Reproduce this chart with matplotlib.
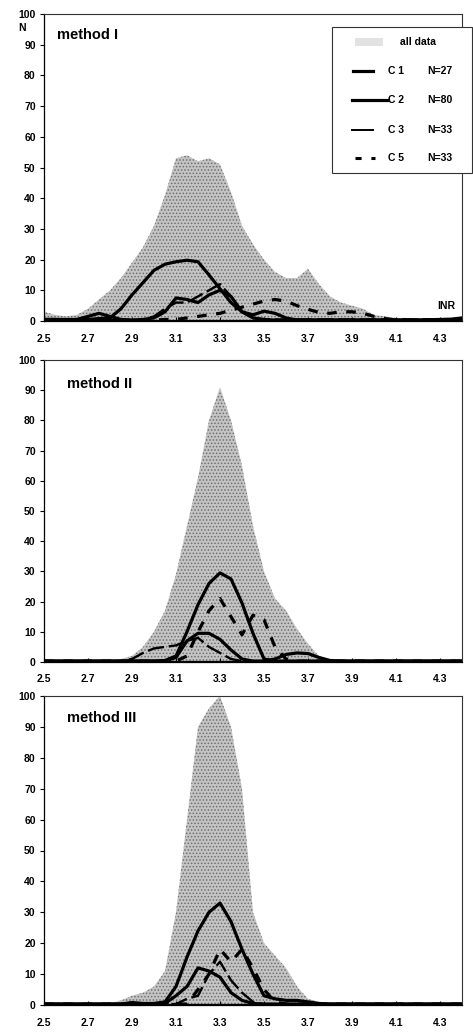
import matplotlib
matplotlib.use("Agg")
import matplotlib.pyplot as plt
from matplotlib.patches import Rectangle
from matplotlib.lines import Line2D

plt.rcParams['font.family'] = ['Liberation Sans', 'DejaVu Sans']
plt.rcParams['hatch.color'] = '#6e6e6e'
plt.rcParams['hatch.linewidth'] = 0.7

INR = [2.50, 2.55, 2.60, 2.65, 2.70, 2.75, 2.80, 2.85, 2.90, 2.95,
       3.00, 3.05, 3.10, 3.15, 3.20, 3.25, 3.30, 3.35, 3.40, 3.45,
       3.50, 3.55, 3.60, 3.65, 3.70, 3.75, 3.80, 3.85, 3.90, 3.95,
       4.00, 4.05, 4.10, 4.15, 4.20, 4.25, 4.30, 4.35, 4.40]

x_ticks = [2.5, 2.7, 2.9, 3.1, 3.3, 3.5, 3.7, 3.9, 4.1, 4.3]
x_tick_labels = ["2.5", "2.7", "2.9", "3.1", "3.3", "3.5", "3.7", "3.9", "4.1", "4.3"]
y_ticks = [0, 10, 20, 30, 40, 50, 60, 70, 80, 90, 100]

methods = ["method I", "method II", "method III"]

# ---- method I ----
all_I = [3, 2, 1.5, 2, 4, 7, 10, 14, 19, 24,
         31, 41, 53, 54, 52, 53, 51, 42, 31, 25,
         20, 16, 14, 14, 17, 12, 8, 6, 5, 4,
         2, 1.5, 1, 1, 0.5, 0.5, 0.5, 0.5, 1]
c1_I = [0.5, 0.5, 0.3, 0.5, 1.5, 2.5, 1.5, 0.5, 0.3, 0.5,
        1, 3, 7.5, 7, 6, 8.5, 10, 8, 3, 1,
        0.5, 0.3, 0.3, 0.3, 0.3, 0.3, 0.3, 0.3, 0.3, 0.3,
        0.3, 0.3, 0.3, 0.3, 0.3, 0.4, 0.5, 0.6, 1]
c2_I = [0.5, 0.5, 0.5, 0.5, 0.5, 0.8, 1, 4, 8.5, 12.5,
        16.5, 18.5, 19.3, 19.8, 19.3, 15, 10.5, 6, 3, 2,
        3.2, 2.5, 1, 0.3, 0.3, 0.3, 0.3, 0.3, 0.3, 0.3,
        0.3, 0.3, 0.3, 0.3, 0.3, 0.3, 0.3, 0.3, 0.3]
c3_I = [0.3, 0.3, 0.3, 0.3, 0.3, 0.3, 0.3, 0.3, 0.3, 0.5,
        1.5, 4, 6, 6, 8, 10, 12, 8, 3, 1,
        0.5, 0.5, 0.5, 0.5, 0.5, 0.5, 0.5, 0.5, 0.5, 0.5,
        0.5, 0.5, 0.5, 0.5, 0.5, 0.5, 0.5, 0.5, 0.5]
c5_I = [0.3, 0.3, 0.3, 0.3, 0.3, 0.3, 0.3, 0.3, 0.3, 0.3,
        0.3, 0.5, 0.5, 1, 1.5, 2, 2.5, 3.5, 4.5, 5.5,
        6.5, 7, 6.5, 5, 3.8, 2.8, 2.5, 3, 3, 2.5,
        1.5, 0.8, 0.3, 0.3, 0.3, 0.3, 0.3, 0.3, 0.3]

# ---- method II ----
all_II = [0.3, 0.3, 0.3, 0.3, 0.3, 0.3, 0.5, 1, 2, 5,
          10, 17, 29, 45, 61, 80, 91, 80, 65, 45,
          30, 21, 17, 11, 6, 2, 0.5, 0.2, 0.2, 0.2,
          0.2, 0.2, 0.2, 0.2, 0.2, 0.2, 0.2, 0.2, 0.2]
c1_II = [0.3, 0.3, 0.3, 0.3, 0.3, 0.3, 0.3, 0.3, 0.3, 0.3,
         0.3, 0.3, 1.5, 7, 9.5, 9.5, 7.5, 4, 1, 0.3,
         0.3, 1, 2.5, 3, 2.8, 1.5, 0.5, 0.3, 0.3, 0.3,
         0.3, 0.3, 0.3, 0.3, 0.3, 0.3, 0.3, 0.3, 0.3]
c2_II = [0.3, 0.3, 0.3, 0.3, 0.3, 0.3, 0.3, 0.3, 0.3, 0.3,
         0.3, 0.5, 2, 10, 19, 26, 29.5, 27.5, 19.5, 9.5,
         1, 0.3, 0.3, 0.3, 0.3, 0.3, 0.3, 0.3, 0.3, 0.3,
         0.3, 0.3, 0.3, 0.3, 0.3, 0.3, 0.3, 0.3, 0.3]
c3_II = [0.3, 0.3, 0.3, 0.3, 0.3, 0.3, 0.3, 0.3, 1, 3,
         4.5, 5, 5.5, 7, 8, 5, 3, 1, 0.3, 0.3,
         0.3, 0.3, 0.3, 0.3, 0.3, 0.3, 0.3, 0.3, 0.3, 0.3,
         0.3, 0.3, 0.3, 0.3, 0.3, 0.3, 0.3, 0.3, 0.3]
c5_II = [0.3, 0.3, 0.3, 0.3, 0.3, 0.3, 0.3, 0.3, 0.3, 0.3,
         0.3, 0.3, 0.3, 2, 10, 17, 21, 15, 9, 15.5,
         14, 5, 1, 0.3, 0.3, 0.3, 0.3, 0.3, 0.3, 0.3,
         0.3, 0.3, 0.3, 0.3, 0.3, 0.3, 0.3, 0.3, 0.3]

# ---- method III ----
all_III = [0.5, 0.5, 0.5, 0.5, 0.5, 0.5, 0.5, 1.5, 3, 4,
           6, 11, 30, 60, 90, 96, 100, 90, 70, 30,
           20, 16, 12, 6, 2, 1, 0.3, 0.2, 0.2, 0.2,
           0.2, 0.2, 0.2, 0.2, 0.2, 0.2, 0.2, 0.2, 0.2]
c1_III = [0.3, 0.3, 0.3, 0.3, 0.3, 0.3, 0.3, 0.3, 0.3, 0.3,
          0.3, 0.5, 3, 6, 12, 11, 9, 4, 1.5, 0.5,
          0.3, 0.3, 0.3, 0.3, 0.3, 0.3, 0.3, 0.3, 0.3, 0.3,
          0.3, 0.3, 0.3, 0.3, 0.3, 0.3, 0.3, 0.3, 0.3]
c2_III = [0.3, 0.3, 0.3, 0.3, 0.3, 0.3, 0.3, 0.3, 0.8, 0.5,
          0.5, 1, 6, 15.5, 24, 30, 33, 27, 18, 10,
          3, 2, 1.5, 1.5, 1, 0.5, 0.3, 0.3, 0.3, 0.3,
          0.3, 0.3, 0.3, 0.3, 0.3, 0.3, 0.3, 0.3, 0.3]
c3_III = [0.3, 0.3, 0.3, 0.3, 0.3, 0.3, 0.3, 0.3, 0.3, 0.3,
          0.3, 0.3, 0.3, 2, 3, 10, 14, 8, 4, 1,
          0.3, 0.3, 0.3, 0.3, 0.3, 0.3, 0.3, 0.3, 0.3, 0.3,
          0.3, 0.3, 0.3, 0.3, 0.3, 0.3, 0.3, 0.3, 0.3]
c5_III = [0.3, 0.3, 0.3, 0.3, 0.3, 0.3, 0.3, 0.3, 0.3, 0.3,
          0.3, 0.3, 0.3, 0.3, 5, 10, 18, 14, 18, 12,
          5, 1, 0.3, 0.3, 0.3, 0.3, 0.3, 0.3, 0.3, 0.3,
          0.3, 0.3, 0.3, 0.3, 0.3, 0.3, 0.3, 0.3, 0.3]

legend_labels = ["all data", "C 1", "C 2", "C 3", "C 5"]
legend_counts = ["", "N=27", "N=80", "N=33", "N=33"]

panels = [
    (all_I, c1_I, c2_I, c3_I, c5_I),
    (all_II, c1_II, c2_II, c3_II, c5_II),
    (all_III, c1_III, c2_III, c3_III, c5_III),
]

W, H = 473, 1032
fig = plt.figure(figsize=(W / 100, H / 100), dpi=100)

# axes boxes in pixel coords: (left, top_px(100), bottom_px(0))
boxes = [(44, 14, 321), (44, 360, 662), (44, 696, 1005)]
right_px = 462

styles = {
    "c1": dict(color='black', lw=2.3, ls='-'),
    "c2": dict(color='black', lw=2.3, ls='-'),
    "c3": dict(color='black', lw=1.7, ls=(0, (7, 2))),
    "c5": dict(color='black', lw=2.3, ls=(0, (3, 3))),
}
FILL = '#c4c4c4'

for i, ((left, top, bottom), data) in enumerate(zip(boxes, panels)):
    ax = fig.add_axes([left / W, 1 - bottom / H, (right_px - left) / W, (bottom - top) / H])
    alld, c1, c2, c3, c5 = data
    ax.fill_between(INR, 0, alld, facecolor=FILL, edgecolor='none',
                    hatch='.....', linewidth=0, zorder=1)
    ax.plot(INR, c2, zorder=3, **styles["c2"])
    ax.plot(INR, c1, zorder=3, **styles["c1"])
    ax.plot(INR, c3, zorder=3, **styles["c3"])
    ax.plot(INR, c5, zorder=3, **styles["c5"])
    ax.set_xlim(2.5, 4.4)
    ax.set_ylim(0, 100)
    ax.set_xticks(x_ticks)
    ax.set_xticklabels(x_tick_labels, fontsize=7.5, fontweight='bold')
    ax.set_yticks(y_ticks)
    ax.set_yticklabels([str(v) for v in y_ticks], fontsize=7.5, fontweight='bold')
    ax.tick_params(axis='x', direction='in', length=3, width=0.8, pad=9)
    ax.tick_params(axis='y', direction='out', length=3, width=0.8, pad=3)
    for s in ['top', 'right']:
        ax.spines[s].set_linewidth(0.8)
        ax.spines[s].set_color('#333333')
    for s in ['left', 'bottom']:
        ax.spines[s].set_linewidth(0.9)
    ax.axhline(0, color='black', lw=1.6, zorder=2)
    ax.text(0.03 if i == 0 else 0.055, 0.93 if i != 1 else 0.92, methods[i],
            transform=ax.transAxes, fontsize=10.5, fontweight='bold',
            ha='left', va='center')
    if i == 0:
        ax.text(0.985, 0.05, "INR", transform=ax.transAxes, fontsize=7.5,
                fontweight='bold', ha='right', va='center')

# "N" axis label
fig.text(22 / W, 1 - 28 / H, "N", fontsize=7.5, fontweight='bold', ha='center', va='center')


def fx(px):
    return px / W


def fy(py):
    return 1 - py / H


# Legend box (figure pixel coordinates)
box = Rectangle((fx(332), fy(173)), (472 - 332) / W, (173 - 27) / H,
                transform=fig.transFigure, facecolor='white', edgecolor='#333333',
                linewidth=0.8, zorder=10)
fig.patches.append(box)

rows_y = [42, 71, 100, 130, 158]
sw = Rectangle((fx(355), fy(46)), 28 / W, 8 / H, transform=fig.transFigure,
               facecolor='#e2e2e2', edgecolor='none', hatch='.....', linewidth=0, zorder=11)
fig.patches.append(sw)
fig.text(fx(400), fy(rows_y[0]), legend_labels[0], fontsize=7.5, fontweight='bold',
         ha='left', va='center', zorder=12)
handle_specs = [
    (353, 373, styles["c1"]),
    (352, 388, styles["c2"]),
    (352, 373, dict(color='black', lw=1.4, ls='-')),
    (355, 375, dict(color='black', lw=2.2, ls=(0, (2, 3.2)))),
]
for k, (x0, x1, st) in enumerate(handle_specs, start=1):
    ln = Line2D([fx(x0), fx(x1)], [fy(rows_y[k]), fy(rows_y[k])],
                transform=fig.transFigure, zorder=12, **st)
    fig.lines.append(ln)
    fig.text(fx(388), fy(rows_y[k]), legend_labels[k], fontsize=7.5, fontweight='bold',
             ha='left', va='center', zorder=12)
    fig.text(fx(427), fy(rows_y[k]), legend_counts[k], fontsize=7.5, fontweight='bold',
             ha='left', va='center', zorder=12)

fig.savefig("out.png", dpi=100, facecolor='white')
